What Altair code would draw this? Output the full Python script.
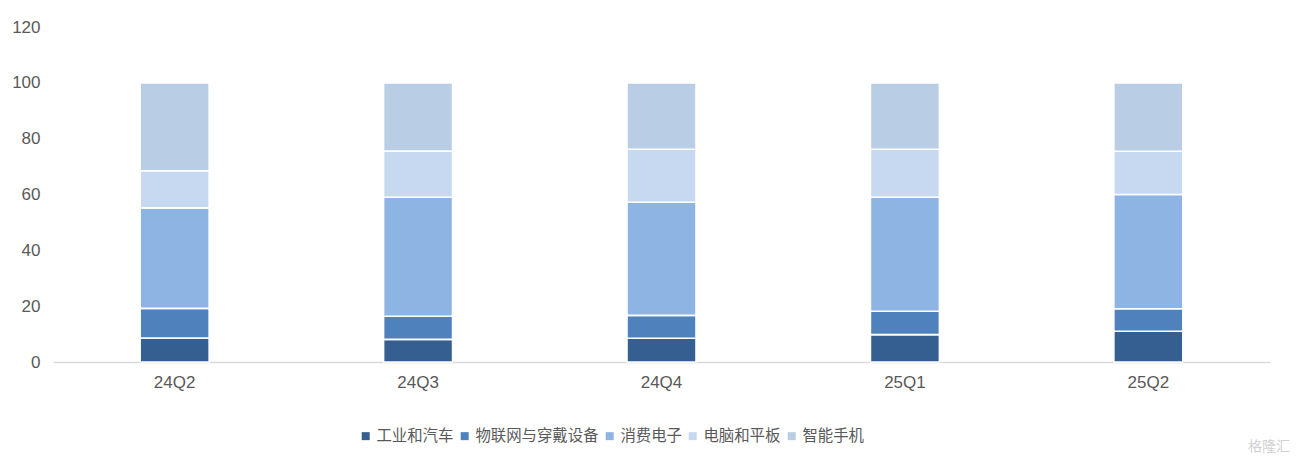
import altair as alt
import pandas as pd

quarters = ["24Q2", "24Q3", "24Q4", "25Q1", "25Q2"]
segments = ["工业和汽车", "物联网与穿戴设备", "消费电子", "电脑和平板", "智能手机"]
colors = ["#365F91", "#4F81BD", "#8EB4E3", "#C6D9F1", "#B9CDE5"]

industrial = [8.6, 8.1, 8.5, 9.8, 11.0]
iot = [10.6, 8.3, 8.2, 8.4, 8.1]
consumer = [36.0, 42.6, 40.5, 40.8, 40.9]
pc = [13.3, 16.6, 19.0, 17.2, 15.5]
phone = [31.5, 24.4, 23.8, 23.8, 24.5]

y_ticks = [0, 20, 40, 60, 80, 100, 120]

series = [industrial, iot, consumer, pc, phone]
rows = []
for si, (name, vals) in enumerate(zip(segments, series)):
    for q, v in zip(quarters, vals):
        rows.append({"quarter": q, "segment": name, "value": v, "order": si})
df = pd.DataFrame(rows)

W, H = 1217, 335

bars = alt.Chart(df).mark_bar(stroke="white", strokeWidth=1.6).encode(
    x=alt.X("quarter:N", sort=quarters, title=None,
            scale=alt.Scale(paddingInner=0.7165, paddingOuter=0.358),
            axis=alt.Axis(labelAngle=0, labelFontSize=17, labelColor="#595959",
                          labelFont="Liberation Sans", ticks=False, tickSize=0,
                          labelPadding=12, domainColor="#D9D9D9", domainWidth=1.5,
                          grid=False)),
    y=alt.Y("value:Q", title=None, stack="zero",
            scale=alt.Scale(domain=[0, 120], nice=False),
            axis=alt.Axis(values=y_ticks, labelFontSize=17, labelColor="#595959",
                          labelFont="Liberation Sans", ticks=False, tickSize=0,
                          labelPadding=13, domain=False, grid=False)),
    color=alt.Color("segment:N", sort=segments,
                    scale=alt.Scale(domain=segments, range=colors),
                    legend=alt.Legend(title=None, orient="none", direction="horizontal",
                                      legendX=305, legendY=401,
                                      symbolType="square", symbolSize=64,
                                      symbolStrokeWidth=0, labelFontSize=15.4,
                                      labelColor="#595959", labelFont="Noto Sans CJK SC",
                                      labelOffset=3, columnPadding=3)),
    order=alt.Order("order:Q", sort="ascending"),
)

mark_df = pd.DataFrame({"t": ["格隆汇"]})
watermark = alt.Chart(mark_df).mark_text(
    align="right", baseline="middle", fontSize=14, color="#D0D0D0",
    font="Noto Sans CJK SC"
).encode(text="t:N", x=alt.value(W + 20), y=alt.value(H + 85))

chart = alt.layer(bars, watermark).properties(
    width=W, height=H,
    background="white",
    autosize=alt.AutoSizeParams(type="none"),
    padding={"left": 45, "top": 19, "right": 22, "bottom": 95},
).configure_view(stroke=None)

chart.save("out.html", embed_options={"renderer": "svg", "actions": False})
